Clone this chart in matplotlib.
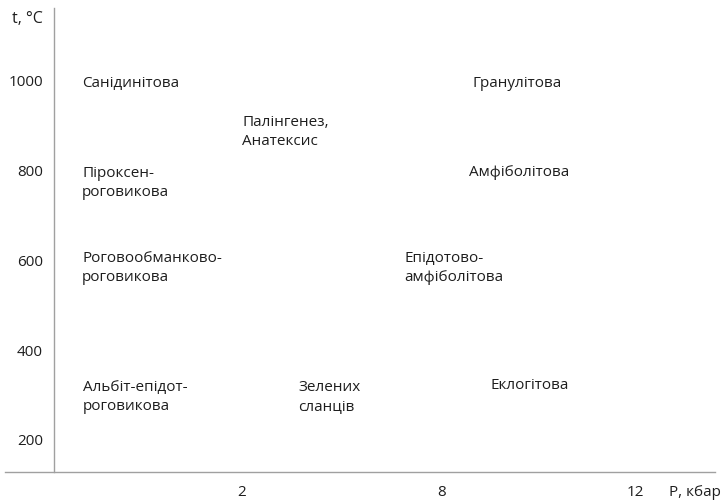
import matplotlib
matplotlib.use('Agg')
import matplotlib.pyplot as plt
from matplotlib.transforms import offset_copy

plt.rcParams['font.family'] = ['Open Sans', 'DejaVu Sans']

# Facies field labels: horizontal position (axis units from the T axis), temperature of first line
facies_names = ["Санідинітова", "Палінгенез,\nАнатексис", "Піроксен-\nроговикова",
                "Гранулітова", "Амфіболітова", "Роговообманково-\nроговикова",
                "Епідотово-\nамфіболітова", "Альбіт-епідот-\nроговикова",
                "Зелених\nсланців", "Еклогітова"]
facies_x = [28, 188, 28, 419, 415, 28, 350, 29, 244, 437]
facies_t = [995, 908, 795, 995, 797, 605, 605, 318, 318, 323]

x_tick_pos = [188, 388, 581, 641]
x_tick_labels = ["2", "8", "12", "P, кбар"]
y_ticks = [200, 400, 600, 800, 1000, 1142]
y_tick_labels = ["200", "400", "600", "800", "1000", "t, °C"]

TXT = '#1e1e1e'
FS = 11
fig = plt.figure(figsize=(7.25, 5.04), dpi=100)
ax = fig.add_axes([5/725, 32/504, 710/725, 464/504])
ax.set_xlim(-49, 661)
ax.set_ylim(128.7, 1162)

for s in ['top', 'right']:
    ax.spines[s].set_visible(False)
ax.spines['left'].set_position(('data', 0))
for s in ['left', 'bottom']:
    ax.spines[s].set_color('#a0a0a0')
    ax.spines[s].set_linewidth(1.0)

ax.set_xticks(x_tick_pos)
ax.set_xticklabels(x_tick_labels)
ax.set_yticks(y_ticks)
ax.set_yticklabels(y_tick_labels)
ax.tick_params(axis='x', length=0, pad=9, labelsize=FS, labelcolor=TXT)
ax.tick_params(axis='y', length=0, pad=8, labelsize=FS, labelcolor=TXT)
ax.get_yticklabels()[-1].set_fontsize(11.5)

trans = offset_copy(ax.transData, fig=fig, x=0, y=7, units='dots')
for name, x, t in zip(facies_names, facies_x, facies_t):
    ax.text(x, t, name, transform=trans, ha='left', va='top', fontsize=FS,
            color=TXT, linespacing=1.38)

fig.savefig('out.png', dpi=100)
